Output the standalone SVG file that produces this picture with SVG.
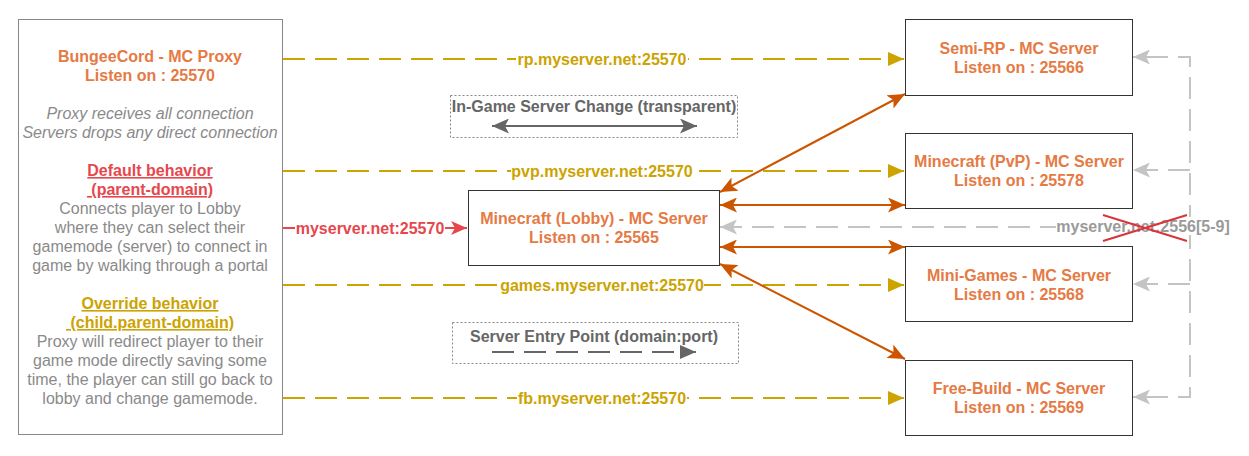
<svg xmlns="http://www.w3.org/2000/svg" width="1249" height="456" viewBox="0 0 1249 456">
<style>
text{font-family:"Liberation Sans",Arial,Helvetica,sans-serif;font-size:16px;text-anchor:middle}
.t{font-weight:bold;fill:#E57A44}
.g{fill:#8A8A8A}
.gi{fill:#8A8A8A;font-style:italic}
.rd{font-weight:bold;fill:#E6474D;text-decoration:underline}
.yd{font-weight:bold;fill:#CCA300;text-decoration:underline}
.yl{font-weight:bold;fill:#CCA300}
.lg{font-weight:bold;fill:#666666}
.box{fill:#fff;stroke:#333;stroke-width:1}
.ybg{fill:#fff}
.yline{fill:none;stroke:#CCA300;stroke-width:2;stroke-dasharray:22 10}
.oline{fill:none;stroke:#CC5500;stroke-width:2}
.gline{fill:none;stroke:#C4C4C4;stroke-width:2;stroke-dasharray:22 10}
.leg{fill:#fff;stroke:#888;stroke-width:1;stroke-dasharray:2 2}
</style>
<defs>
<marker id="aY" markerUnits="userSpaceOnUse" markerWidth="16" markerHeight="14" refX="16" refY="7" orient="auto"><path d="M0,0 L16,7 L0,14 Z" fill="#CCA300"/></marker>
<marker id="aO" markerUnits="userSpaceOnUse" markerWidth="17" markerHeight="15" refX="17" refY="7.5" orient="auto-start-reverse"><path d="M0,0 L17,7.5 L0,15 L4,7.5 Z" fill="#CC5500"/></marker>
<marker id="aG" markerUnits="userSpaceOnUse" markerWidth="17" markerHeight="15" refX="17" refY="7.5" orient="auto"><path d="M0,0 L17,7.5 L0,15 L4,7.5 Z" fill="#C4C4C4"/></marker>
<marker id="aR" markerUnits="userSpaceOnUse" markerWidth="16" markerHeight="14" refX="16" refY="7" orient="auto"><path d="M0,0 L16,7 L0,14 L4,7 Z" fill="#E6474D"/></marker>
<marker id="aD" markerUnits="userSpaceOnUse" markerWidth="17" markerHeight="15" refX="17" refY="7.5" orient="auto-start-reverse"><path d="M0,0 L17,7.5 L0,15 L4,7.5 Z" fill="#666"/></marker>
<marker id="aL" markerUnits="userSpaceOnUse" markerWidth="16" markerHeight="14" refX="16" refY="7" orient="auto"><path d="M0,0 L16,7 L0,14 Z" fill="#666"/></marker>
</defs>
<rect width="1249" height="456" fill="#fff"/>

<g id="connectors">
<path class="yline" d="M283,59 L904,59" marker-end="url(#aY)"/>
<path class="yline" d="M283,171 L904,171" marker-end="url(#aY)"/>
<path class="yline" d="M283,285 L904,285" marker-end="url(#aY)"/>
<path class="yline" d="M283,398 L904,398" marker-end="url(#aY)"/>
<rect class="ybg" x="516" y="50" width="172" height="18"/>
<text class="yl" x="602" y="65">rp.myserver.net:25570</text>
<rect class="ybg" x="511" y="162" width="182" height="18"/>
<text class="yl" x="602" y="177">pvp.myserver.net:25570</text>
<rect class="ybg" x="500" y="276" width="204" height="18"/>
<text class="yl" x="602" y="291">games.myserver.net:25570</text>
<rect class="ybg" x="517" y="389" width="170" height="18"/>
<text class="yl" x="602" y="404">fb.myserver.net:25570</text>

<path d="M283,228 L467,228" fill="none" stroke="#E6474D" stroke-width="2" marker-end="url(#aR)"/>
<rect class="ybg" x="295" y="219" width="150" height="18"/>
<text x="370" y="234" font-weight="bold" fill="#E6474D">myserver.net:25570</text>

<path class="oline" d="M720,192 L905,94" marker-start="url(#aO)" marker-end="url(#aO)"/>
<path class="oline" d="M720,205 L905,205" marker-start="url(#aO)" marker-end="url(#aO)"/>
<path class="oline" d="M720,247 L905,247" marker-start="url(#aO)" marker-end="url(#aO)"/>
<path class="oline" d="M720,264 L905,359" marker-start="url(#aO)" marker-end="url(#aO)"/>

<path class="gline" d="M1190,227 L1190,57 L1133,57" marker-end="url(#aG)"/>
<path class="gline" d="M1190,170 L1133,170" marker-end="url(#aG)"/>
<path class="gline" d="M1190,227 L1190,397 L1133,397" marker-end="url(#aG)"/>
<path class="gline" d="M1190,284 L1133,284" marker-end="url(#aG)"/>
<path class="gline" d="M1190,227 L720,227" marker-end="url(#aG)"/>
<rect class="ybg" x="1056" y="217" width="174" height="18"/>
<text x="1143" y="232" font-weight="bold" fill="#9A9A9A">myserver.net:2556[5-9]</text>
<path d="M1103,215 L1187,241 M1103,241 L1187,215" stroke="#D9343A" stroke-width="2" fill="none"/>
</g>

<g id="proxy">
<rect x="18.5" y="19.5" width="264" height="415" fill="#fff" stroke="#888" stroke-width="1"/>
<text class="t" x="150" y="62">BungeeCord - MC Proxy</text>
<text class="t" x="150" y="81">Listen on : 25570</text>
<text class="gi" x="150" y="119">Proxy receives all connection</text>
<text class="gi" x="150" y="138">Servers drops any direct connection</text>
<text class="rd" x="150" y="176">Default behavior</text>
<text class="rd" x="150" y="195" xml:space="preserve"> (parent-domain)</text>
<text class="g" x="150" y="214">Connects player to Lobby</text>
<text class="g" x="150" y="233">where they can select their</text>
<text class="g" x="150" y="252">gamemode (server) to connect in</text>
<text class="g" x="150" y="271">game by walking through a portal</text>
<text class="yd" x="150" y="309">Override behavior</text>
<text class="yd" x="150" y="328" xml:space="preserve"> (child.parent-domain)</text>
<text class="g" x="150" y="347">Proxy will redirect player to their</text>
<text class="g" x="150" y="366">game mode directly saving some</text>
<text class="g" x="150" y="385">time, the player can still go back to</text>
<text class="g" x="150" y="404">lobby and change gamemode.</text>
</g>

<g id="lobby">
<rect class="box" x="468.5" y="190.5" width="251" height="75"/>
<text class="t" x="594" y="224">Minecraft (Lobby) - MC Server</text>
<text class="t" x="594" y="243">Listen on : 25565</text>
</g>

<g id="semirp">
<rect class="box" x="905.5" y="19.5" width="227" height="76"/>
<text class="t" x="1019" y="54">Semi-RP - MC Server</text>
<text class="t" x="1019" y="73">Listen on : 25566</text>
</g>
<g id="pvp">
<rect class="box" x="905.5" y="133.5" width="227" height="75"/>
<text class="t" x="1019" y="167">Minecraft (PvP) - MC Server</text>
<text class="t" x="1019" y="186">Listen on : 25578</text>
</g>
<g id="minigames">
<rect class="box" x="905.5" y="246.5" width="227" height="75"/>
<text class="t" x="1019" y="281">Mini-Games - MC Server</text>
<text class="t" x="1019" y="300">Listen on : 25568</text>
</g>
<g id="freebuild">
<rect class="box" x="905.5" y="360.5" width="227" height="75"/>
<text class="t" x="1019" y="394">Free-Build - MC Server</text>
<text class="t" x="1019" y="413">Listen on : 25569</text>
</g>

<g id="legend-ingame">
<rect class="leg" x="450.5" y="95.5" width="287" height="42"/>
<text class="lg" x="594" y="112">In-Game Server Change (transparent)</text>
<path d="M492,126 L697,126" stroke="#666" stroke-width="2" fill="none" marker-start="url(#aD)" marker-end="url(#aD)"/>
</g>
<g id="legend-entry">
<rect class="leg" x="452.5" y="322.5" width="286" height="41"/>
<text class="lg" x="594" y="342">Server Entry Point (domain:port)</text>
<path d="M492,352 L696,352" stroke="#666" stroke-width="2" stroke-dasharray="22 10" fill="none" marker-end="url(#aL)"/>
</g>
</svg>
